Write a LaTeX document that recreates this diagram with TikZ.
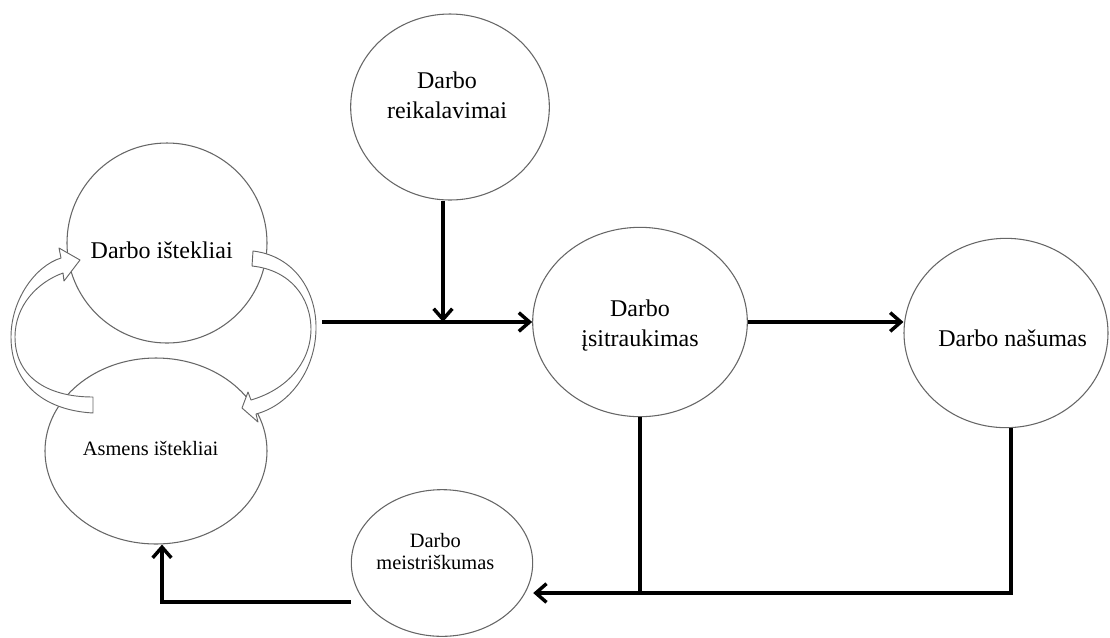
\documentclass[tikz,border=0pt]{standalone}
\usepackage{fontspec}
\setmainfont{Liberation Serif}
\usetikzlibrary{arrows.meta,shapes.geometric}

% text of a bubble, moved by (#1,#2) from the bubble's centre
\newcommand{\inside}[3]{\raisebox{#2}[0pt][0pt]{\makebox[0pt]{\hspace*{#1}\hspace*{#1}\begin{tabular}{@{}c@{}}#3\end{tabular}}}}

\tikzset{
  bubble/.style={ellipse, draw=black!60, line width=0.8pt, inner sep=0pt,
                 font=\fontsize{18}{22.5}\selectfont},
  smalltext/.style={font=\fontsize{15.3}{16}\selectfont},
  flow/.style={line width=2.6pt, -{Straight Barb[length=8pt,width=14pt]}},
  link/.style={line width=2.6pt},
  hollow/.style={draw=black!60, line width=0.7pt, fill=white, line join=round},
}

\begin{document}
\begin{tikzpicture}[x=0.75pt, y=-0.75pt]
    \useasboundingbox (0,0) rectangle (1110,637);

    % Nodes {istek, asm, reik, isitr, nas, meist}
    \node [bubble, minimum width=150pt, minimum height=150pt]                (istek) at (167,243) {\inside{-4pt}{-11.25pt}{Darbo ištekliai}};
    \node [bubble, smalltext, minimum width=166.5pt, minimum height=139.5pt] (asm)   at (156,451) {\inside{-4pt}{-3.75pt}{Asmens ištekliai}};
    \node [bubble, minimum width=149pt, minimum height=139.5pt]              (reik)  at (450,107) {\inside{-2.25pt}{3pt}{Darbo\\reikalavimai}};
    \node [bubble, minimum width=161pt, minimum height=142pt]                (isitr) at (640,322) {\inside{0pt}{-6.75pt}{Darbo\\įsitraukimas}};
    \node [bubble, minimum width=153pt, minimum height=142pt]                (nas)   at (1006,333) {\inside{5pt}{-9.75pt}{Darbo našumas}};
    \node [bubble, smalltext, minimum width=136pt, minimum height=110pt]     (meist) at (442,563) {\inside{-5pt}{3pt}{Darbo\\meistriškumas}};

    % Hollow curved arrows between the two resource circles
    \path [hollow] (93,413) .. controls (40,410) and (11,380) .. (11,337)
        .. controls (11,300) and (35,266) .. (61,258) -- (59,248) -- (80,260) -- (64,281)
        -- (63,273) .. controls (38,282) and (15,305) .. (15,337)
        .. controls (15,375) and (45,397) .. (93,397) -- cycle;
    \path [hollow] (253,251) .. controls (295,256) and (317,292) .. (316,330)
        .. controls (315,370) and (290,405) .. (256,414) -- (258,422) -- (242,408) -- (248,392)
        -- (251,400) .. controls (285,390) and (310,365) .. (311,330)
        .. controls (311,297) and (290,270) .. (252,266) -- cycle;

    % Paths
    \coordinate (src)  at (322,322);
    \coordinate (join) at (443,322);
    \coordinate (bot)  at (1011,593);
    \coordinate (back) at (162,602);

    \draw [flow] (join |- reik.south) -- (join);
    \draw [flow] (src) -- (isitr.west);
    \draw [flow] (isitr.east) -- (isitr.east -| nas.west);
    \draw [link] (isitr.south) -- (isitr.south |- bot);
    \draw [flow] (nas.south -| bot) -- (bot) -- (meist.east |- bot);
    \draw [flow] (meist.west |- back) -- (back) -- (back |- asm.south);

\end{tikzpicture}
\end{document}
